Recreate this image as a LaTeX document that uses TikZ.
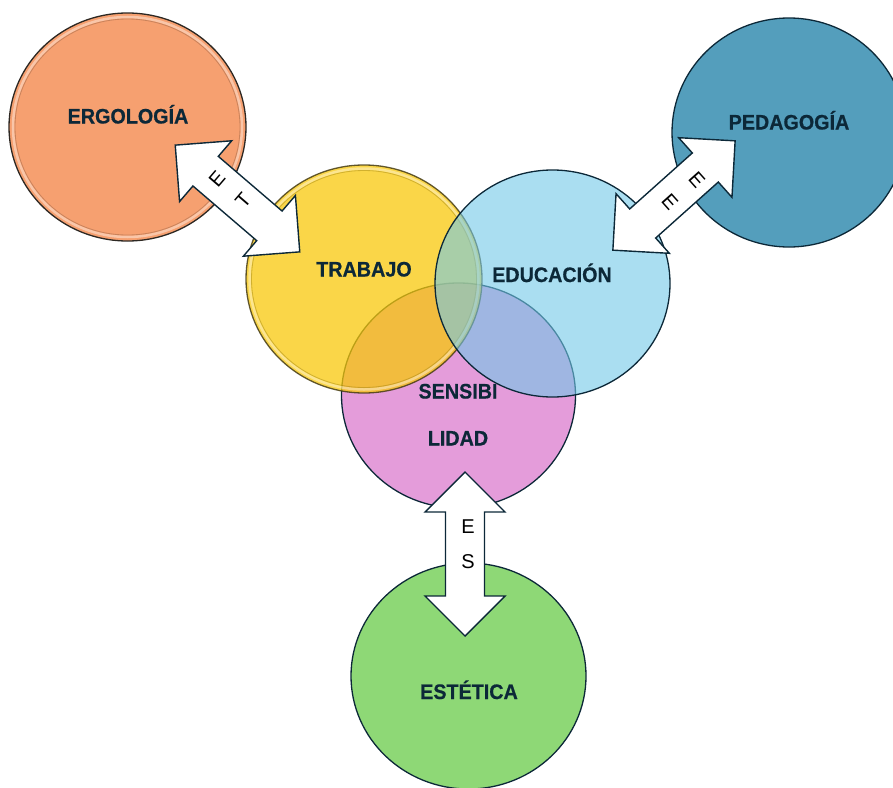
\documentclass[tikz,border=0pt]{standalone}
\usepackage{fontspec}
\setmainfont{Liberation Sans}
\newfontfamily\lblfont[FakeStretch=0.94, BoldFeatures={FakeBold=0.6}]{Liberation Sans}
\usetikzlibrary{shapes.geometric}
\definecolor{navy}{RGB}{12,40,56}
\definecolor{ergfill}{RGB}{246,160,112}
\definecolor{ergline}{RGB}{45,40,35}
\definecolor{trafill}{RGB}{248,200,11}
\definecolor{traline}{RGB}{70,60,20}
\definecolor{edufill}{RGB}{114,200,232}
\definecolor{senfill}{RGB}{228,156,218}
\definecolor{pedfill}{RGB}{84,158,188}
\definecolor{estfill}{RGB}{142,216,118}
\begin{document}
\begin{tikzpicture}[x=1pt,y=-1pt,
  blob/.style={ellipse, inner sep=0pt, outer sep=0pt, line width=1.3pt},
  lbl/.style={font=\lblfont\bfseries\fontsize{21}{21}\selectfont, text=navy, anchor=base, inner sep=0pt},
  ltr/.style={font=\fontsize{20}{20}\selectfont, text=black, inner sep=0pt},
  dblarrow/.pic={\draw[fill=white, draw=navy, line width=1.4pt, line join=miter]
     (-82,0) -- (-42,-40) -- (-42,-19.5) -- (42,-19.5) -- (42,-40) -- (82,0)
     -- (42,40) -- (42,19.5) -- (-42,19.5) -- (-42,40) -- cycle;}
]
\useasboundingbox (0,0) rectangle (893,787);
\clip (0,0) rectangle (893,787);

% outer circles
\node[blob, minimum width=237pt, minimum height=228pt, fill=ergfill, draw=ergline] (erg) at (127.5,127) {};
\draw[white, opacity=0.4, line width=2.5pt] (erg.center) ellipse [x radius=114.5pt, y radius=110pt];
\draw[ergfill!60!black, opacity=0.45, line width=0.8pt] (erg.center) ellipse [x radius=112.5pt, y radius=108pt];

\node[blob, minimum width=234pt, minimum height=229pt, fill=pedfill, draw=navy] (ped) at (789,132.5) {};
\node[blob, minimum width=235pt, minimum height=226pt, fill=estfill, draw=navy] (est) at (468.5,676) {};

% central Venn
\node[blob, minimum width=234pt, minimum height=225pt, fill=senfill, draw=navy] (sen) at (458.5,395.5) {};
\node[blob, minimum width=236pt, minimum height=228pt, fill=trafill, fill opacity=0.75, draw=traline, draw opacity=0.85] (tra) at (364,279) {};
\draw[white, opacity=0.4, line width=2.5pt] (tra.center) ellipse [x radius=114.5pt, y radius=110.5pt];
\draw[trafill!60!black, opacity=0.4, line width=0.8pt] (tra.center) ellipse [x radius=112.5pt, y radius=108.5pt];
\node[blob, minimum width=235pt, minimum height=227pt, fill=edufill, fill opacity=0.6, draw=navy] (edu) at (552.5,283.5) {};

% block arrows
\pic[rotate=-40.6] (aet) at (237.5,198.5) {dblarrow};
\pic[rotate=41.8] (aee) at (674,195.5) {dblarrow};
\pic[rotate=90] (aes) at (465,554) {dblarrow};

% arrow letters
\node[ltr, rotate=49.4] (let1) at (217,179) {E};
\node[ltr, rotate=49.4] (let2) at (243,200) {T};
\node[ltr, rotate=-48.2] (lee1) at (697,180) {E};
\node[ltr, rotate=-48.2] (lee2) at (670,202) {E};
\node[ltr] (les1) at (468,527) {E};
\node[ltr] (les2) at (468,562) {S};

% labels
\node[lbl] (terg) at (128,123.5) {ERGOLOGÍA};
\node[lbl] (tped) at (789,129.5) {PEDAGOGÍA};
\node[lbl] (ttra) at (364,276.5) {TRABAJO};
\node[lbl] (tedu) at (552,282) {EDUCACIÓN};
\node[lbl] (tsen1) at (458,398.5) {SENSIBI};
\node[lbl] (tsen2) at (458,445.5) {LIDAD};
\node[lbl] (test) at (469,699) {ESTÉTICA};
\end{tikzpicture}
\end{document}
